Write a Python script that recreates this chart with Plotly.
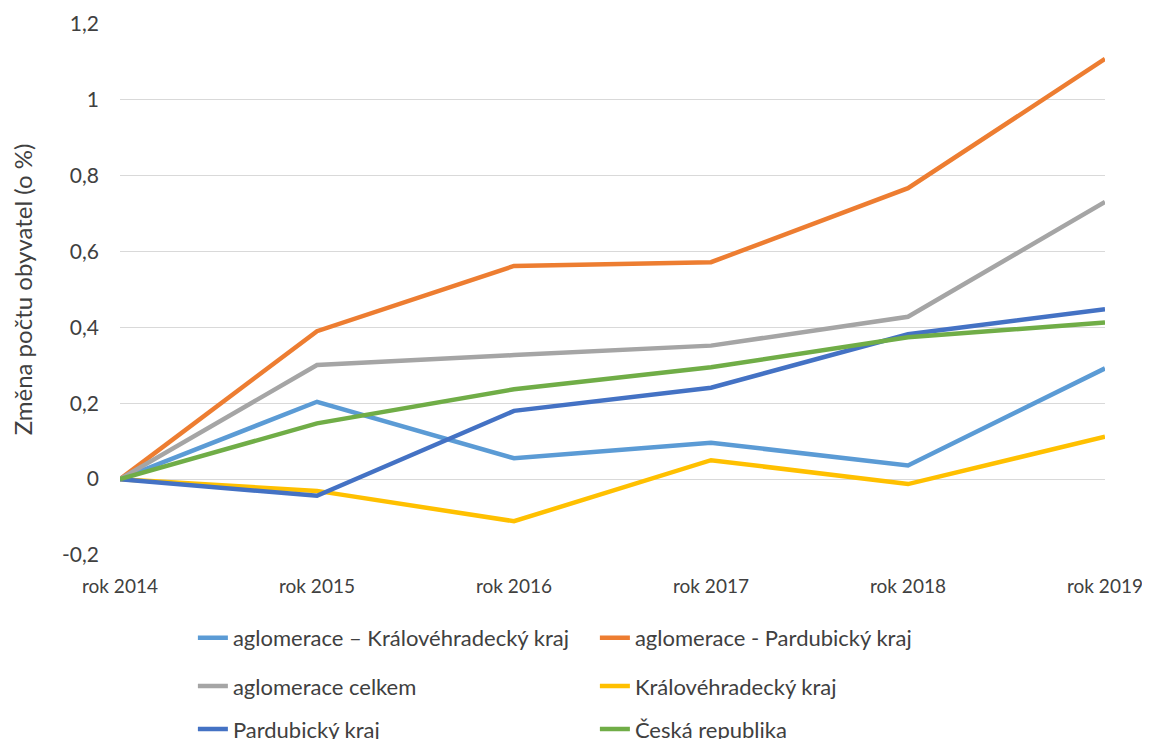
import plotly.graph_objects as go

years = ["rok 2014", "rok 2015", "rok 2016", "rok 2017", "rok 2018", "rok 2019"]

agl_kh = [0, 0.204, 0.055, 0.096, 0.036, 0.292]
agl_pard = [0, 0.390, 0.562, 0.572, 0.767, 1.108]
agl_celkem = [0, 0.301, 0.327, 0.352, 0.428, 0.731]
kh_kraj = [0, -0.031, -0.111, 0.050, -0.013, 0.112]
pard_kraj = [0, -0.044, 0.180, 0.241, 0.382, 0.448]
cr = [0, 0.147, 0.237, 0.295, 0.374, 0.413]

y_tick_vals = [-0.2, 0, 0.2, 0.4, 0.6, 0.8, 1.0, 1.2]
y_tick_text = ["-0,2", "0", "0,2", "0,4", "0,6", "0,8", "1", "1,2"]

series = [
    ("aglomerace – Královéhradecký kraj", agl_kh, "#5B9BD5", "legend"),
    ("aglomerace - Pardubický kraj", agl_pard, "#ED7D31", "legend"),
    ("aglomerace celkem", agl_celkem, "#A5A5A5", "legend2"),
    ("Královéhradecký kraj", kh_kraj, "#FFC000", "legend2"),
    ("Pardubický kraj", pard_kraj, "#4472C4", "legend3"),
    ("Česká republika", cr, "#70AD47", "legend3"),
]

fig = go.Figure()
for name, vals, color, lg in series:
    fig.add_trace(go.Scatter(x=years, y=vals, mode="lines", name=name,
                             line=dict(color=color, width=4.5), legend=lg))

font_family = "Lato, 'Open Sans', sans-serif"
legend_common = dict(orientation="h", entrywidth=357, entrywidthmode="pixels",
                     font=dict(size=22, color="#404040", family=font_family),
                     xanchor="left", yanchor="middle", bgcolor="rgba(0,0,0,0)",
                     itemwidth=30, tracegroupgap=0)

fig.update_layout(
    width=1142, height=731,
    margin=dict(l=112, r=45, t=16, b=184, autoexpand=False),
    paper_bgcolor="white", plot_bgcolor="white",
    font=dict(family=font_family, size=20, color="#404040"),
    legend=dict(x=0.074, y=-0.156, **legend_common),
    legend2=dict(x=0.074, y=-0.247, **legend_common),
    legend3=dict(x=0.074, y=-0.328, **legend_common),
    xaxis=dict(type="category", range=[0, 5], showgrid=False, showline=False,
               ticks="", ticklabelstandoff=18,
               tickfont=dict(size=19, color="#404040")),
    yaxis=dict(range=[-0.2, 1.2], tickvals=y_tick_vals, ticktext=y_tick_text,
               showgrid=True, gridcolor="#D9D9D9", gridwidth=1,
               zeroline=True, zerolinecolor="#D9D9D9", zerolinewidth=1,
               showline=False, ticks="", ticklabelstandoff=20,
               tickfont=dict(size=21, color="#404040"),
               title=dict(text="Změna počtu obyvatel (o %)", font=dict(size=24, color="#404040"),
                          standoff=26)),
)

fig.write_html("out.html")
